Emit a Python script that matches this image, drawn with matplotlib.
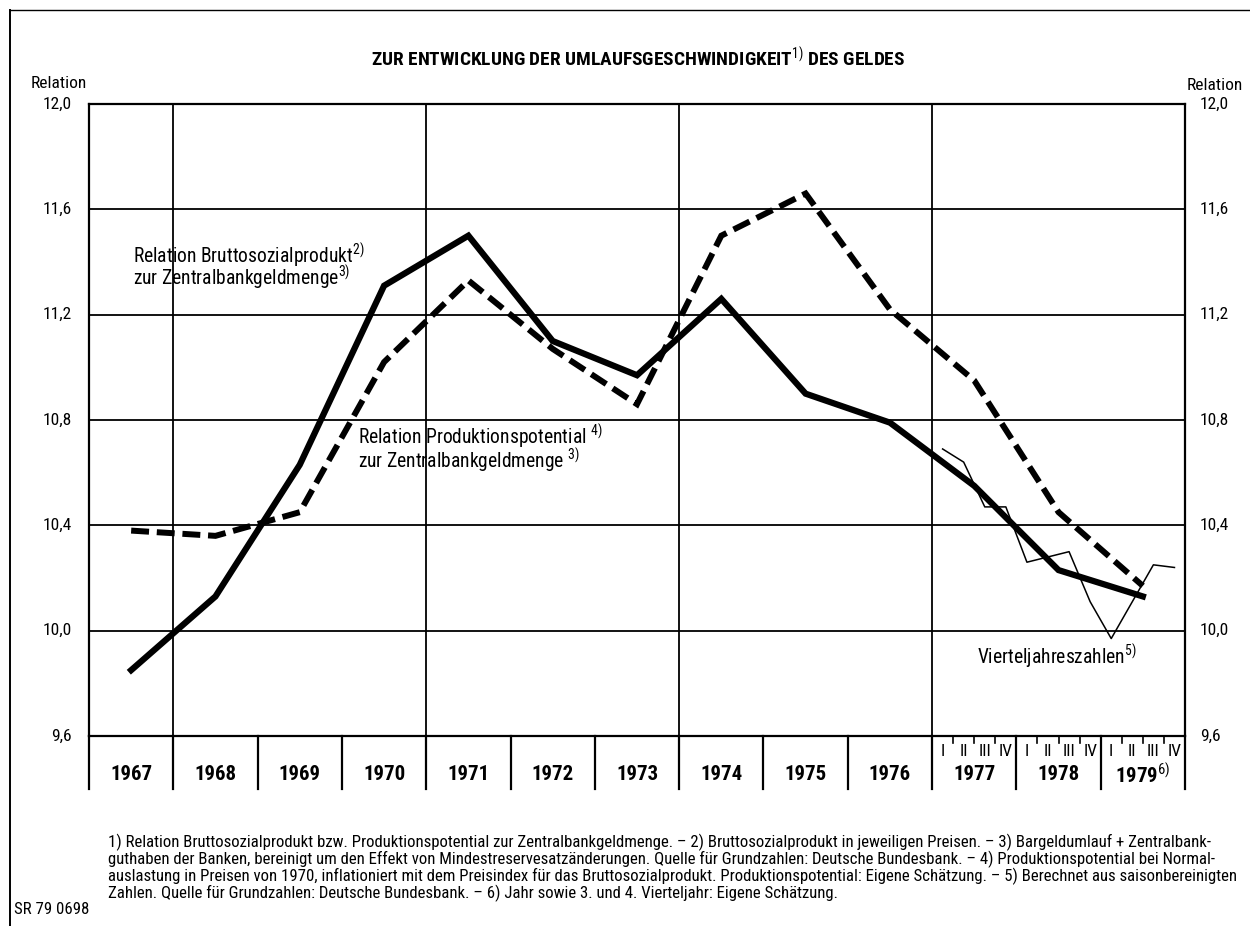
import matplotlib
matplotlib.use('Agg')
import matplotlib.pyplot as plt
import matplotlib.transforms as mtransforms
from matplotlib import font_manager as fm
import numpy as np

# data
years = [1967, 1968, 1969, 1970, 1971, 1972, 1973, 1974, 1975, 1976, 1977, 1978, 1979]
bsp_relation = [9.85, 10.13, 10.63, 11.31, 11.50, 11.10, 10.97, 11.26, 10.90, 10.79, 10.55, 10.23, 10.13]
pp_relation = [10.38, 10.36, 10.45, 11.02, 11.33, 11.07, 10.86, 11.50, 11.66, 11.22, 10.95, 10.45, 10.17]
quarter_years = [1977] * 4 + [1978] * 4 + [1979] * 4
quarter_no = [1, 2, 3, 4] * 3
quarter_relation = [10.69, 10.64, 10.47, 10.47, 10.26, 10.28, 10.30, 10.11, 9.97, 10.11, 10.25, 10.24]
quarter_names = ['I', 'II', 'III', 'IV']
y_ticks = [9.6, 10.0, 10.4, 10.8, 11.2, 11.6, 12.0]
y_tick_labels = ['9,6', '10,0', '10,4', '10,8', '11,2', '11,6', '12,0']
year_labels = ['1967', '1968', '1969', '1970', '1971', '1972', '1973', '1974', '1975', '1976',
               '1977', '1978', r'1979$^{\mathrm{6)}}$']

footnotes = [
    '1) Relation Bruttosozialprodukt bzw. Produktionspotential zur Zentralbankgeldmenge. \u2013 2) Bruttosozialprodukt in jeweiligen Preisen. \u2013 3) Bargeldumlauf + Zentralbank-',
    'guthaben der Banken, bereinigt um den Effekt von Mindestreservesatz\u00e4nderungen. Quelle f\u00fcr Grundzahlen: Deutsche Bundesbank. \u2013 4) Produktionspotential bei Normal-',
    'auslastung in Preisen von 1970, inflationiert mit dem Preisindex f\u00fcr das Bruttosozialprodukt. Produktionspotential: Eigene Sch\u00e4tzung. \u2013 5) Berechnet aus saisonbereinigten',
    'Zahlen. Quelle f\u00fcr Grundzahlen: Deutsche Bundesbank. \u2013 6) Jahr sowie 3. und 4. Vierteljahr: Eigene Sch\u00e4tzung.',
]


# pick a condensed grotesque that has a static regular and bold cut
def pick_font():
    cands = ['Roboto Condensed', 'IBM Plex Sans Condensed', 'Barlow Condensed', 'Archivo Narrow',
             'PT Sans Narrow', 'Fira Sans Condensed', 'Liberation Sans Narrow']
    for name in cands:
        fonts = [f for f in fm.fontManager.ttflist if f.name == name and f.style == 'normal']
        weights = set()
        for f in fonts:
            if '[' in f.fname:
                continue
            weights.add(int(f.weight) if str(f.weight).isdigit() else 400)
        if 400 in weights and 700 in weights:
            return name
    return 'DejaVu Sans'


font = pick_font()
plt.rcParams['font.family'] = [font, 'DejaVu Sans']
plt.rcParams['mathtext.fontset'] = 'custom'
plt.rcParams['mathtext.rm'] = font
plt.rcParams['mathtext.it'] = font + ':italic'
plt.rcParams['mathtext.bf'] = font + ':bold'

W, H = 1250, 926
fig = plt.figure(figsize=(12.5, 9.26), dpi=100)
L, R, T, B = 89, 1185, 104, 736
ax = fig.add_axes([L / W, 1 - B / H, (R - L) / W, (B - T) / H])
renderer = fig.canvas.get_renderer()


def fx(px):
    return px / W


def fy(py):
    return 1 - py / H


def ay(py):
    # pixel row -> axes fraction (negative below the plot)
    return (B - py) / (B - T)


def fit_size(text, width_px, base=12, weight='normal'):
    t = fig.text(0, 0, text, fontsize=base, fontweight=weight)
    w = t.get_window_extent(renderer).width
    t.remove()
    return base * width_px / w


def two_lines(x, yc, text, size, gap_px):
    # one text object, line gap scaled to the pixel gap seen on the original
    t = fig.text(fx(x), fy(yc), text, ha='left', va='center', fontsize=size, linespacing=1.0)
    first = fig.text(0, 0, text.split('\n')[0], fontsize=size)
    gap = t.get_window_extent(renderer).height - first.get_window_extent(renderer).height
    first.remove()
    t.set_linespacing(gap_px / gap)
    return t


ax.set_xlim(1967, 1980)
ax.set_ylim(9.6, 12.0)
ax.set_xticks([])
ax.set_yticks([])
for s in ax.spines.values():
    s.set_linewidth(1.6)

# grid
for v in y_ticks[1:-1]:
    ax.axhline(v, color='black', lw=1.3, zorder=1)
for v in [1968, 1971, 1974, 1977]:
    ax.axvline(v, color='black', lw=1.3, zorder=1)

x_year = np.array(years) + 0.5
x_quarter = np.array(quarter_years) + (np.array(quarter_no) - 0.5) / 4

ax.plot(x_year, bsp_relation, color='black', lw=4.5, solid_joinstyle='miter', zorder=4)
ax.plot(x_year, pp_relation, color='black', lw=4.3, dashes=(3.0, 1.3),
        dash_capstyle='butt', dash_joinstyle='miter', zorder=4)
ax.plot(x_quarter, quarter_relation, color='black', lw=1.1, zorder=3)

# text sizes: labels fitted to the widths measured on the original
fs_tick = 12.5
fs_rel = 12.5
fs_year = 15
fs_quarter = 12.5
fs_lab = fit_size(r'Relation Bruttosozialprodukt$^{\mathrm{2)}}$', 232)
fs_title = fit_size(r'ZUR ENTWICKLUNG DER UMLAUFSGESCHWINDIGKEIT$^{\mathrm{1)}}$ DES GELDES', 533, weight='bold')
fs_note = fit_size(footnotes[2], 1132)

# y tick labels both sides
ylab = mtransforms.blended_transform_factory(ax.transAxes, ax.transData)
for v, t in zip(y_ticks, y_tick_labels):
    ax.text(-0.0155, v, t, transform=ylab, ha='right', va='center', fontsize=fs_tick)
    ax.text(1.0137, v, t, transform=ylab, ha='left', va='center', fontsize=fs_tick)
fig.text(fx(59), fy(83), 'Relation', ha='center', va='center', fontsize=fs_rel)
fig.text(fx(1215), fy(85), 'Relation', ha='center', va='center', fontsize=fs_rel)

# bottom strip with years and quarters
xlab = mtransforms.blended_transform_factory(ax.transData, ax.transAxes)
for yr in range(1967, 1981):
    ax.plot([yr, yr], [0, ay(789)], transform=xlab, color='black', lw=1.6, clip_on=False)
for yr, t in zip(years, year_labels):
    ax.text(yr + 0.5, ay(775), t, transform=xlab, ha='center', va='center',
            fontsize=fs_year, fontweight='bold')
for yr in [1977, 1978, 1979]:
    for k in range(1, 4):
        ax.plot([yr + k / 4, yr + k / 4], [0, ay(743)], transform=xlab, color='black',
                lw=1.2, clip_on=False)
    for k, q in enumerate(quarter_names):
        ax.text(yr + (k + 0.5) / 4, ay(751), q, transform=xlab, ha='center', va='center',
                fontsize=fs_quarter)

# series labels
two_lines(133, 266, 'Relation Bruttosozialprodukt$^{\\mathrm{2)}}$\nzur Zentralbankgeldmenge$^{\\mathrm{3)}}$',
          fs_lab, 20)
two_lines(358, 448, 'Relation Produktionspotential $^{\\mathrm{4)}}$\nzur Zentralbankgeldmenge $^{\\mathrm{3)}}$',
          fs_lab, 23)
fig.text(fx(977), fy(656), r'Vierteljahreszahlen$^{\mathrm{5)}}$',
         ha='left', va='center', fontsize=fs_lab)

# title
fig.text(fx(638), fy(58), r'ZUR ENTWICKLUNG DER UMLAUFSGESCHWINDIGKEIT$^{\mathrm{1)}}$ DES GELDES',
         ha='center', va='center', fontsize=fs_title, fontweight='bold')

# footnotes
for i, line in enumerate(footnotes):
    fig.text(fx(108), fy(842 + 17 * i), line, ha='left', va='center', fontsize=fs_note)
fig.text(fx(14), fy(910), 'SR 79 0698', ha='left', va='center', fontsize=fs_note)

# page frame
fig.add_artist(plt.Line2D([fx(10), fx(10)], [0, fy(10)], transform=fig.transFigure,
                          color='black', lw=1.4))
fig.add_artist(plt.Line2D([fx(10), 1], [fy(10), fy(10)], transform=fig.transFigure,
                          color='black', lw=1.0))

fig.savefig('out.png', dpi=100)
